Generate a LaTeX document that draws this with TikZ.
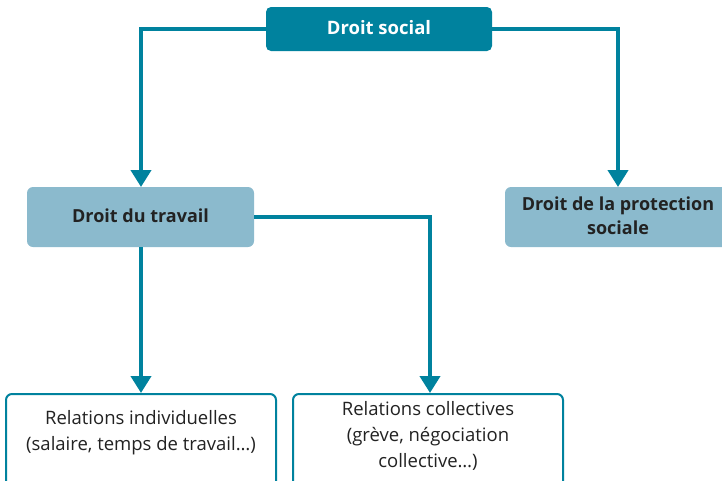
\documentclass[tikz,border=0pt]{standalone}
\usepackage{fontspec}
\setmainfont{Open Sans}
\usetikzlibrary{arrows.meta}
\definecolor{teal}{HTML}{00829E}
\definecolor{lightb}{HTML}{8BBACD}
\definecolor{txt}{HTML}{222222}
\begin{document}
\begin{tikzpicture}[x=1pt,y=-1pt,
  conn/.style={draw=teal,line width=4pt,-{Triangle[length=17pt,width=20pt]}},
  topbox/.style={fill=teal,rounded corners=5pt},
  midbox/.style={fill=lightb,rounded corners=6pt},
  lowbox/.style={draw=teal,line width=2pt,fill=white,rounded corners=6pt},
  toptext/.style={text=white,font=\bfseries\fontsize{18.5}{22}\selectfont,align=center},
  midtext/.style={text=txt,font=\bfseries\fontsize{18}{24}\selectfont,align=center},
  lowtext/.style={text=txt,font=\fontsize{18.5}{26}\selectfont,align=center}]
\useasboundingbox (0,0) rectangle (722,480);
\path[topbox] (266,7) rectangle (492,51);
\node[toptext] (ds) at (379,28) {Droit social};
\coordinate (dsL) at (266,29);
\coordinate (dsR) at (492,29);
\path[midbox] (27,187) rectangle (254,247);
\node[midtext] (dt) at (140.5,216) {Droit du travail};
\coordinate (dtT) at (141,187);
\coordinate (dtB) at (141,247);
\coordinate (dtR) at (254,217);
\path[midbox] (505,187) rectangle (740,247);
\node[midtext] (dp) at (618,216) {Droit de la protection\\sociale};
\coordinate (dpT) at (618,187);
\path[lowbox] (6,394) rectangle (276,490);
\node[lowtext] (ri) at (141,433) {Relations individuelles\\(salaire, temps de travail…)};
\coordinate (riT) at (141,393);
\path[lowbox] (293,394) rectangle (563,490);
\node[lowtext] (rc) at (428,436) {Relations collectives\\(grève, négociation\\collective…)};
\coordinate (rcT) at (430,393);
\draw[conn] (dsL) -| (dtT);
\draw[conn] (dsR) -| (dpT);
\draw[conn] (dtB) -- (riT);
\draw[conn] (dtR) -| (rcT);
\end{tikzpicture}
\end{document}
